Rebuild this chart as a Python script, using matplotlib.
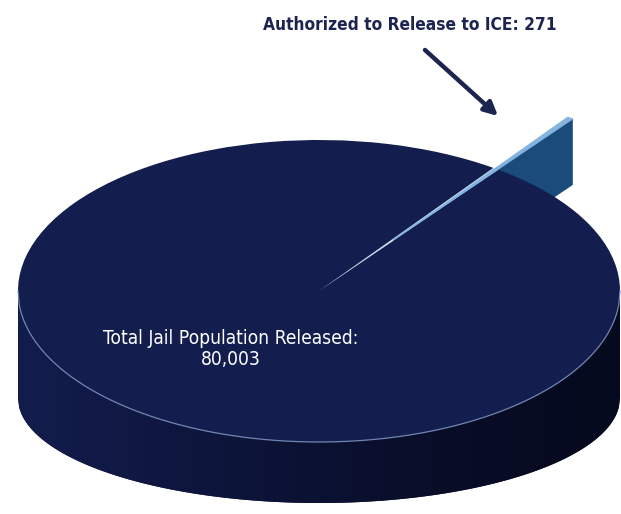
import numpy as np
import matplotlib
matplotlib.use("Agg")
import matplotlib.pyplot as plt
from matplotlib.colors import LinearSegmentedColormap
from matplotlib.patches import Polygon

# ---- data ----
labels = ["Authorized to Release to ICE", "Total Jail Population Released"]
values = [271, 80003]
ice_label = "Authorized to Release to ICE: 271"
total_label = "Total Jail Population Released:\n80,003"

# ---- style / geometry ----
TOP = "#131e4e"
SLICE_TOP = "#86b4de"
GAP = "#c9dcf0"
WALL = "#1a4b7b"
NAVY = "#1c2550"
SLICE_DIR = 54.0        # direction of the small slice (deg)
EXPLODE = 0.42
WALL_D = 0.44           # visible depth of the exploded slice wall
YC2, B2 = -0.709, 0.695  # bottom outline of the cylinder side
XL = (-1.0598, 1.0033)
YL = (-1.4768, 1.927)

fig = plt.figure(figsize=(6.21, 5.14), dpi=100)
fig.patch.set_facecolor("white")
ax = fig.add_axes([0, 0, 1, 1])

frac = values[0] / sum(values)
start = SLICE_DIR - 360 * frac / 2

# light wall visible through the gap left by the exploded slice
ax.pie(values, startangle=start, colors=[GAP, "none"], radius=1,
       wedgeprops=dict(linewidth=0, zorder=3))
# top faces
wedges, _ = ax.pie(values, startangle=start, explode=[EXPLODE, 0],
                   colors=[SLICE_TOP, TOP], radius=1,
                   wedgeprops=dict(linewidth=0, zorder=4))

# side wall of the exploded slice
w = wedges[0]
cx, cy = w.center
t1 = np.deg2rad(w.theta1)
bx, by = cx + w.r * np.cos(t1), cy + w.r * np.sin(t1)
ax.add_patch(Polygon([(cx, cy), (bx, by), (bx, by - WALL_D), (cx, cy - WALL_D)],
                     closed=True, facecolor=WALL, edgecolor="none", zorder=1))
ax.plot([cx, bx], [cy, by], color="#7fb2e2", lw=1.2, zorder=4.6,
        solid_capstyle="butt")

# side wall of the main pie (with horizontal shading)
xs = np.linspace(-1, 1, 500)
lower = YC2 - B2 * np.sqrt(np.clip(1 - xs ** 2, 0, None))
verts = [(-1, 0)] + list(zip(xs, lower)) + [(1, 0)]
side = Polygon(verts, closed=True, facecolor="#0d1336", edgecolor="none", zorder=2)
ax.add_patch(side)
cmap = LinearSegmentedColormap.from_list(
    "side", ["#131d4c", "#0f1740", "#0b1132", "#080c25", "#060a1e"])
grad = np.linspace(0, 1, 256)[None, :]
im = ax.imshow(grad, cmap=cmap, extent=[-1, 1, YC2 - B2 - 0.05, 0],
               aspect="auto", zorder=2.1, interpolation="bicubic")
im.set_clip_path(side)

# rim highlight on the front edge of the top face
ax.plot(xs, -np.sqrt(np.clip(1 - xs ** 2, 0, None)), color="#8299c4",
        lw=0.9, alpha=0.85, zorder=4.5)

ax.set_aspect("auto")
ax.set_xlim(*XL)
ax.set_ylim(*YL)
ax.axis("off")

fam = ["Liberation Sans Narrow", "DejaVu Sans"]
t_top = ax.text(0.6594, 0.951, ice_label, transform=ax.transAxes, ha="center",
                va="center", fontsize=14, fontweight="bold", color=NAVY,
                family=fam, stretch="condensed")
t_in = ax.text(0.372, 0.321, total_label, transform=ax.transAxes, ha="center",
               va="center", fontsize=14, color="white", family=fam,
               stretch="condensed", linespacing=1.15, zorder=6)

fig.canvas.draw()
bb = t_top.get_window_extent()
t_top.set_fontsize(t_top.get_fontsize() * 295 / bb.width)
bb = t_in.get_window_extent()
t_in.set_fontsize(t_in.get_fontsize() * 257 / bb.width)

ax.annotate("", xy=(498 / 621, 1 - 116 / 514), xytext=(425 / 621, 1 - 50 / 514),
            xycoords="axes fraction", textcoords="axes fraction",
            arrowprops=dict(arrowstyle="-|>", color=NAVY, lw=3.2,
                            mutation_scale=20, shrinkA=0, shrinkB=0))

fig.savefig("out.png", dpi=100, facecolor="white")
